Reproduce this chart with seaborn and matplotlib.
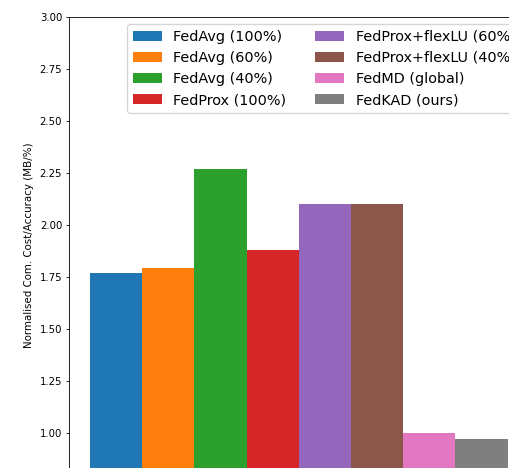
import matplotlib
matplotlib.use("Agg")
import matplotlib.pyplot as plt
import seaborn as sns
import pandas as pd

# Communication cost per accuracy point for each method
methods = [
    "FedAvg (100%)", "FedAvg (60%)", "FedAvg (40%)", "FedProx (100%)",
    "FedProx+flexLU (60%)", "FedProx+flexLU (40%)", "FedMD (global)", "FedKAD (ours)",
]
cost_per_acc = [1.77, 1.79, 2.27, 1.88, 2.10, 2.10, 1.00, 0.97]
yticks = [1.00, 1.25, 1.50, 1.75, 2.00, 2.25, 2.50, 2.75, 3.00]

df = pd.DataFrame({"group": ["all"] * len(methods), "method": methods, "value": cost_per_acc})

W, H = 509, 468
fig = plt.figure(figsize=(W / 100, H / 100), dpi=100)
top = 1 - 16.7 / H
height = 2.2 * 208 / H
ax = fig.add_axes([69 / W, top - height, 459.5 / W, height])

sns.barplot(data=df, x="group", y="value", hue="method", hue_order=methods,
            palette="tab10", ax=ax, width=0.8, gap=0, saturation=1, errorbar=None)

ax.set_xlim(-0.44, 0.44)
ax.set_ylim(0.8, 3.0)
ax.set_yticks(yticks)
ax.set_yticklabels([f"{t:.2f}" for t in yticks])
ax.set_xlabel("")
ax.set_xticks([])
ax.set_ylabel("Normalised Com. Cost/Accuracy (MB/%)", fontsize=7.4)
ax.tick_params(axis="y", labelsize=7.3, length=2.4, width=0.6, pad=2.5)
for s in ax.spines.values():
    s.set_linewidth(0.6)

ax.legend(ncol=2, loc="upper right", fontsize=10.4, labelspacing=0.5)

fig.savefig("out.png", dpi=100)
